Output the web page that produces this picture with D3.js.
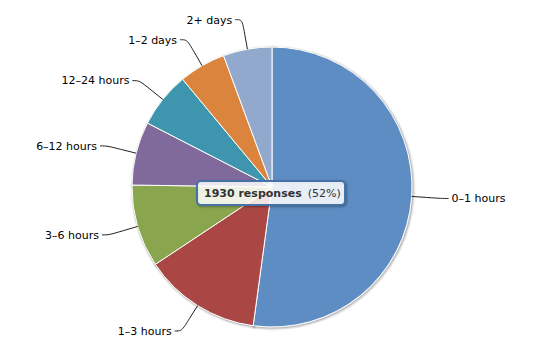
<!DOCTYPE html>
<html><head><meta charset="utf-8">
<script src="https://cdn.jsdelivr.net/npm/d3@7"></script>
<style>html,body{margin:0;padding:0;background:#fff;}svg{display:block;font-family:"DejaVu Sans",sans-serif;}</style>
</head><body><svg id="c" width="550" height="360"></svg>
<script>
const categories = ["0–1 hours","1–3 hours","3–6 hours","6–12 hours","12–24 hours","1–2 days","2+ days"];
const responses = [1930, 501, 353, 271, 238, 200, 208];
const colors = ["#5d8dc2","#aa4643","#89a54e","#80699b","#3d96ae","#db843d","#92a8cd"];
const tooltipIndex = 0;

const W = 550, H = 360, cx = 272, cy = 187, r = 140, dist = 30;
const svg = d3.select("#c");
const total = d3.sum(responses);
const data = categories.map((c,i)=>({name:c, value:responses[i], color:colors[i]}));
const pie = d3.pie().value(d=>d.value).sort(null);
const arcs = pie(data);
const arc = d3.arc().innerRadius(0).outerRadius(r);
const g = svg.append("g").attr("transform",`translate(${cx},${cy})`);

// shadow
[[5,0.05],[3,0.1],[1,0.15]].forEach(([w,o])=>{
  g.append("g").attr("transform","translate(1,1)").selectAll("path").data(arcs).join("path")
    .attr("d",arc).attr("fill","none").attr("stroke","#000").attr("stroke-opacity",o)
    .attr("stroke-width",w).attr("stroke-linejoin","round");
});
g.selectAll("path.slice").data(arcs).join("path").attr("class","slice")
  .attr("d",arc).attr("fill",d=>d.data.color).attr("stroke","#fff").attr("stroke-width",1)
  .attr("stroke-linejoin","round");

// labels + connectors
arcs.forEach(a=>{
  const m = (a.startAngle+a.endAngle)/2;
  const s = Math.sin(m), c = Math.cos(m);
  const lx = (r+dist)*s, ly = -(r+dist)*c;
  const bx = (r+dist/2)*s, by = -(r+dist/2)*c;
  const ex = r*s, ey = -r*c;
  const left = s < 0;
  const sx = lx + (left ? -7 : 7);
  const p = d3.path();
  p.moveTo(sx, ly);
  p.bezierCurveTo(lx, ly, 2*bx-ex, 2*by-ey, bx, by);
  p.lineTo(ex, ey);
  g.append("path").attr("d",p.toString()).attr("fill","none").attr("stroke","#222").attr("stroke-width",1);
  g.append("text").attr("x", lx + (left ? -10 : 10)).attr("y", ly).attr("dy","0.35em")
    .attr("text-anchor", left ? "end" : "start").attr("font-size",11).attr("fill","#000")
    .text(a.data.name);
});

// tooltip
const t = data[tooltipIndex];
const pct = Math.round(t.value/total*100);
const tg = svg.append("g").attr("transform",`translate(${cx-75},${cy-6})`);
const tw = 148, th = 24;
[[5,0.05],[3,0.1],[1,0.15]].forEach(([w,o])=>{
  tg.append("rect").attr("x",1).attr("y",1).attr("width",tw).attr("height",th).attr("rx",4)
    .attr("fill","none").attr("stroke","#000").attr("stroke-opacity",o).attr("stroke-width",w);
});
tg.append("rect").attr("width",tw).attr("height",th).attr("rx",4)
  .attr("fill","rgba(255,255,255,0.85)").attr("stroke","#4572a7").attr("stroke-width",2);
const tt = tg.append("text").attr("x",7).attr("y",16).attr("font-size",11).attr("fill","#333");
tt.append("tspan").attr("font-weight","bold").text(`${t.value} responses`);
tt.append("tspan").attr("dx",6).text(`(${pct}%)`);
</script></body></html>
